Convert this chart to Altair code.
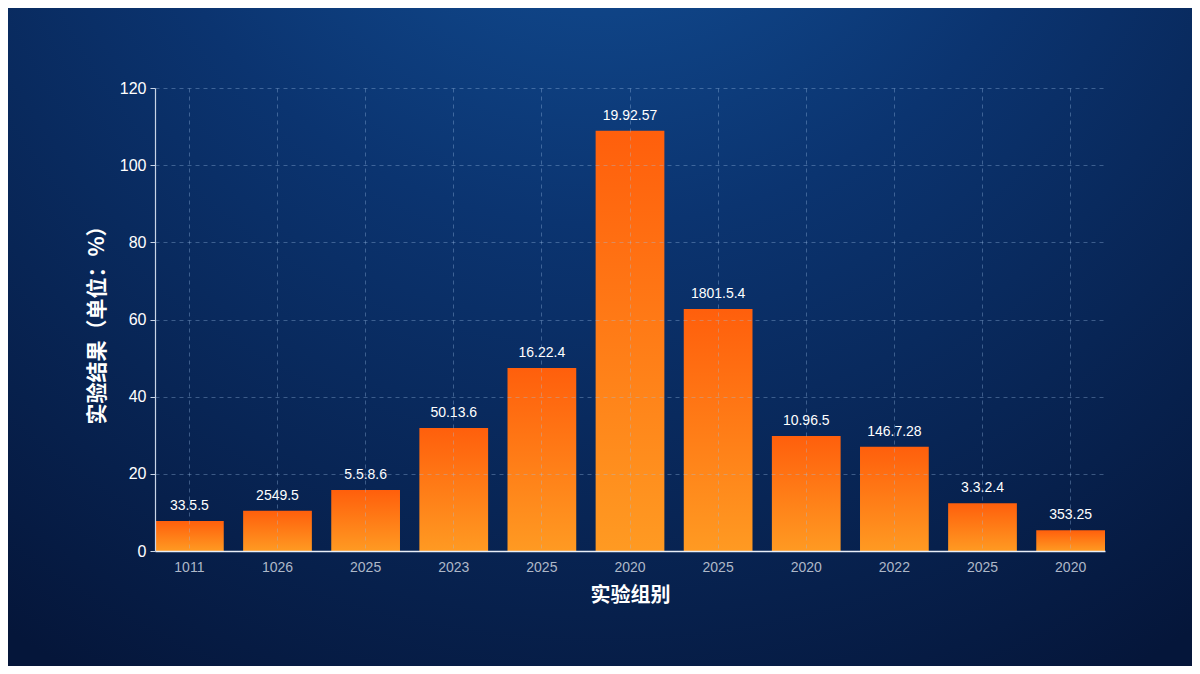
import altair as alt
import pandas as pd

groups = ["1011", "1026", "2025", "2023", "2025", "2020", "2025", "2020", "2022", "2025", "2020"]
values = [7.8, 10.4, 15.8, 31.9, 47.4, 108.9, 62.7, 29.8, 27.0, 12.4, 5.4]
bar_labels = ["33.5.5", "2549.5", "5.5.8.6", "50.13.6", "16.22.4", "19.92.57",
              "1801.5.4", "10.96.5", "146.7.28", "3.3.2.4", "353.25"]
y_ticks = [0, 20, 40, 60, 80, 100, 120]

df = pd.DataFrame({
    "idx": list(range(len(groups))),
    "group": groups,
    "value": values,
    "label": bar_labels,
})

W, H = 950, 463
PL, PT, PR, PB = 147, 80, 87, 115

label_expr = "[" + ",".join("'" + g + "'" for g in groups) + "][datum.value]"

x_enc = alt.X(
    "idx:O",
    title="实验组别",
    scale=alt.Scale(paddingInner=0.22, paddingOuter=0),
    axis=alt.Axis(
        labelExpr=label_expr,
        labelAngle=0,
        labelColor="#aeb8c8",
        labelFontSize=14,
        labelFont="Liberation Sans",
        labelPadding=9,
        ticks=False,
        domainColor="#e8eef8",
        domainWidth=1.5,
        grid=True,
        gridColor="#9fc0e8",
        gridOpacity=0.35,
        gridDash=[4, 4],
        titleColor="#ffffff",
        titleFont="Noto Sans CJK SC",
        titleFontSize=20,
        titleFontWeight="bold",
        titlePadding=11,
        zindex=1,
    ),
)

y_enc = alt.Y(
    "value:Q",
    title="实验结果（单位：%）",
    scale=alt.Scale(domain=[0, 120], nice=False),
    axis=alt.Axis(
        values=y_ticks,
        labelColor="#ffffff",
        labelFontSize=16,
        labelFont="Liberation Sans",
        labelPadding=4,
        tickSize=5,
        tickColor="#c8d4e6",
        domainColor="#c8d4e6",
        domainWidth=1.2,
        grid=True,
        gridColor="#9fc0e8",
        gridOpacity=0.35,
        gridDash=[4, 4],
        titleColor="#ffffff",
        titleFont="Noto Sans CJK SC",
        titleFontSize=21,
        titleFontWeight="bold",
        titlePadding=12,
        zindex=1,
    ),
)

bg = alt.Chart(alt.Data(values=[{"a": 1}])).mark_rect(
    fill=alt.Gradient(
        gradient="radial",
        stops=[
            alt.GradientStop(color="#1456a0", offset=0),
            alt.GradientStop(color="#0b3470", offset=0.45),
            alt.GradientStop(color="#05163a", offset=1),
        ],
        x1=0.5, y1=0.0, r1=0.0,
        x2=0.5, y2=0.0, r2=0.9,
    ),
    clip=False,
).encode(
    x=alt.value(-PL), x2=alt.value(W + PR),
    y=alt.value(-PT), y2=alt.value(H + PB),
)

bars = alt.Chart(df).mark_bar(
    fill=alt.Gradient(
        gradient="linear",
        stops=[
            alt.GradientStop(color="#ff5f0c", offset=0),
            alt.GradientStop(color="#ff9a22", offset=1),
        ],
        x1=0, y1=0, x2=0, y2=1,
    ),
).encode(x=x_enc, y=y_enc)

texts = alt.Chart(df).mark_text(
    color="#ffffff",
    fontSize=14,
    font="Liberation Sans",
    baseline="bottom",
    dy=-8,
).encode(x=alt.X("idx:O"), y=alt.Y("value:Q"), text="label:N")

chart = alt.layer(bg, bars, texts).properties(
    width=W,
    height=H,
    padding={"left": PL, "top": PT, "right": PR, "bottom": PB},
    autosize=alt.AutoSizeParams(type="none"),
    background="#081d40",
).configure_view(stroke=None)

chart.save("out.html", embed_options={"renderer": "svg", "actions": False})
